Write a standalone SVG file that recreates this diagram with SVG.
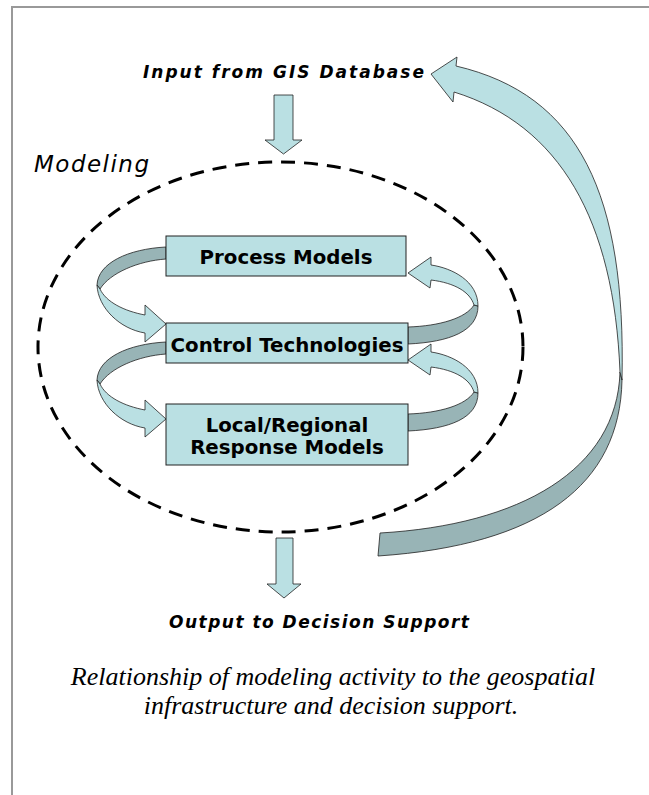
<svg xmlns="http://www.w3.org/2000/svg" width="649" height="795" viewBox="0 0 649 795">
  <defs>
    <style>
      .frame { fill: none; stroke: #999999; stroke-width: 2; }
      .box { fill: #BAE0E3; stroke: #222222; stroke-width: 1; }
      .lite { fill: #BAE0E3; stroke: #222222; stroke-width: 0.8; stroke-linejoin: miter; }
      .dark { fill: #98B4B6; stroke: #222222; stroke-width: 0.8; stroke-linejoin: miter; }
      .boundary { fill: none; stroke: #000000; stroke-width: 3; stroke-dasharray: 14 9; }
      .boxtext { font-family: "DejaVu Sans", Verdana, sans-serif; font-weight: bold; font-size: 19.8px; fill: #000000; text-anchor: middle; }
      .label { font-family: "DejaVu Sans", Verdana, sans-serif; font-weight: bold; font-style: italic; font-size: 17px; fill: #000000; }
      .title { font-family: "DejaVu Sans", Verdana, sans-serif; font-style: italic; font-size: 23px; fill: #000000; }
      .caption { font-family: "Liberation Serif", "Times New Roman", serif; font-style: italic; font-size: 26px; fill: #000000; text-anchor: middle; }
    </style>
    <!-- ribbon loop on the left side: back strip (dark) then front strip with head (light) -->
    <g id="loopLeft">
      <path class="dark" d="M166,247 C128,249 98,263 97,285 L100,289 C110,273 138,261 166,259 Z"/>
      <path class="lite" d="M97,285 C98,308 120,329 145,333 L145,342 L166,324 L145,305 L145,315 C124,311 106,302 100,289 Z"/>
    </g>
    <!-- ribbon loop on the right side -->
    <g id="loopRight">
      <path class="dark" d="M478,306 C478,331 450,342 408,344 L408,327 C440,326 466,318 474,305 Z"/>
      <path class="lite" d="M431,257 L408,273 L430,288 L431,280 C455,283 470,292 474,305 L478,306 C478,281 452,268 431,265 Z"/>
    </g>
  </defs>

  <rect width="649" height="795" fill="#FFFFFF"/>
  <!-- page frame -->
  <path class="frame" d="M12,795 L12,7 L649,7"/>

  <!-- dashed boundary of the modeling stage -->
  <g id="modeling-boundary">
    <ellipse class="boundary" cx="280.5" cy="347" rx="242.5" ry="185"/>
    <text class="title" x="34" y="172" textLength="115" lengthAdjust="spacing">Modeling</text>
  </g>

  <g id="connectors">
    <!-- large feedback arrow: decision support back to the GIS database -->
    <g id="feedback-arrow">
      <path class="dark" d="M622,380 C620,485 540,545 378,556 L380,533 C520,525 617,470 620,372 Z"/>
      <path class="lite" d="M454,92 L453,102 L431,74 L457,57 L456,66 C580,95 626,195 622,380 L620,372 C614,220 560,125 454,92 Z"/>
    </g>
    <!-- input arrow -->
    <path id="input-arrow" class="lite" d="M274,95 L293,95 L293,140 L302,140 L283.5,154 L265,140 L274,140 Z"/>
    <!-- output arrow -->
    <path id="output-arrow" class="lite" d="M276,538 L293,538 L293,584 L301,584 L284,598 L267,584 L276,584 Z"/>
    <!-- loops between the model blocks -->
    <use href="#loopLeft"/>
    <use href="#loopLeft" transform="translate(0,95)"/>
    <use href="#loopRight"/>
    <use href="#loopRight" transform="translate(0,87)"/>
  </g>

  <g id="process-models">
    <rect class="box" x="166" y="236" width="240" height="40"/>
    <text class="boxtext" x="286" y="264">Process Models</text>
  </g>

  <g id="control-technologies">
    <rect class="box" x="166" y="323" width="242" height="40"/>
    <text class="boxtext" x="287" y="351.5">Control Technologies</text>
  </g>

  <g id="response-models">
    <rect class="box" x="166" y="404" width="242" height="61"/>
    <text class="boxtext" x="287" y="431.5">Local/Regional</text>
    <text class="boxtext" x="287" y="454">Response Models</text>
  </g>

  <g id="gis-input">
    <text class="label" x="143" y="78" textLength="281" lengthAdjust="spacing">Input from GIS Database</text>
  </g>

  <g id="decision-output">
    <text class="label" x="169" y="628" textLength="300" lengthAdjust="spacing">Output to Decision Support</text>
  </g>

  <g id="caption">
    <text class="caption" x="333" y="685">Relationship of modeling activity to the geospatial</text>
    <text class="caption" x="331" y="714">infrastructure and decision support.</text>
  </g>
</svg>
